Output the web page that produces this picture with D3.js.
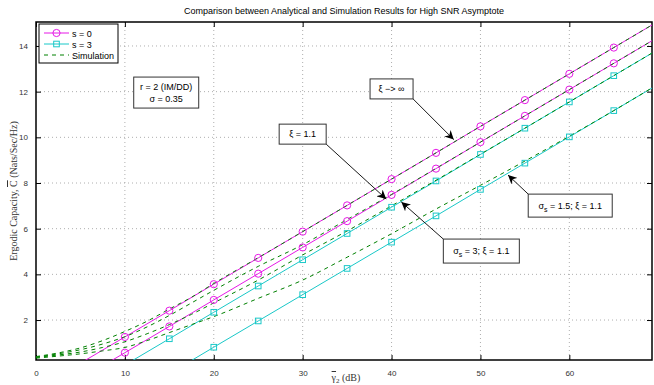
<!DOCTYPE html>
<html lang="en">
<head>
<meta charset="utf-8">
<title>Comparison between Analytical and Simulation Results for High SNR Asymptote</title>
<style>
  body { margin: 0; background: #fff; }
  svg { display: block; font-family: "Liberation Sans", Arial, Helvetica, sans-serif; }
  .tick text { font-size: 8px; fill: #333; }
  .serif { font-family: "Liberation Serif", "DejaVu Serif", serif; }
</style>
</head>
<body>
<script src="https://d3js.org/d3.v7.min.js"></script>
<script>

// SNR grid in dB (analytical curves) and the finer grid of the simulation curves
var snrDb = [0, 5, 10, 15, 20, 25, 30, 35, 40, 45, 50, 55, 60, 65, 70];
var simDb = [0, 2.5, 5, 7.5, 10, 12.5, 15, 17.5, 20, 25, 30, 35, 40, 45, 50, 55, 60, 65, 70];

// analytical high-SNR asymptotes (Nats/Sec/Hz)
var s0Inf  = [-1.04, 0.11, 1.26, 2.41, 3.57, 4.72, 5.87, 7.02, 8.17, 9.32, 10.48, 11.63, 12.78, 13.93, 15.08];
var s0Xi   = [-1.73, -0.58, 0.57, 1.72, 2.88, 4.03, 5.18, 6.33, 7.48, 8.63, 9.79, 10.94, 12.09, 13.24, 14.39];
var s3Hi   = [-2.27, -1.12, 0.03, 1.18, 2.34, 3.49, 4.64, 5.79, 6.94, 8.09, 9.25, 10.40, 11.55, 12.70, 13.85];
var s3Lo   = [-3.80, -2.65, -1.50, -0.35, 0.81, 1.96, 3.11, 4.26, 5.41, 6.56, 7.72, 8.87, 10.02, 11.17, 12.32];

// simulation results
var sim1 = [0.40, 0.56, 0.78, 1.10, 1.50, 1.95, 2.48, 3.00, 3.60, 4.73, 5.87, 7.02, 8.17, 9.32, 10.48, 11.63, 12.78, 13.93, 15.08];
var sim2 = [0.38, 0.52, 0.70, 0.95, 1.27, 1.70, 2.20, 2.75, 3.30, 4.35, 5.30, 6.40, 7.50, 8.64, 9.79, 10.94, 12.09, 13.24, 14.39];
var sim3 = [0.36, 0.47, 0.60, 0.80, 1.05, 1.40, 1.80, 2.25, 2.75, 3.75, 4.85, 5.90, 7.00, 8.12, 9.26, 10.40, 11.55, 12.70, 13.85];
var sim4 = [0.33, 0.42, 0.52, 0.65, 0.80, 1.10, 1.45, 1.80, 2.15, 2.95, 3.75, 4.75, 5.78, 6.86, 7.90, 8.96, 10.05, 11.17, 12.33];

var xTicks = [0, 10, 20, 30, 40, 50, 60];
var yTicks = [2, 4, 6, 8, 10, 12, 14];
var legendLabels = ["s = 0", "s = 3", "Simulation"];

// annotations: box centre and arrow tip in data units
var notes = [
  { lines: ["r = 2 (IM/DD)", "σ = 0.35"], cx: 14.65, cy: 11.96, w: 65, h: 31 },
  { lines: ["ξ −> ∞"], cx: 40.0, cy: 12.12, w: 43, h: 20, tip: [47.0, 9.9], from: [1, 1] },
  { lines: ["ξ = 1.1"], cx: 30.0, cy: 10.14, w: 47, h: 20, tip: [39.4, 7.3], from: [1, 1] },
  { lines: ["σs = 1.5; ξ = 1.1"], cx: 60.1, cy: 7.01, w: 84, h: 23, tip: [53.1, 8.35], from: [-1, -1] },
  { lines: ["σs = 3; ξ = 1.1"], cx: 50.1, cy: 5.02, w: 76, h: 24, tip: [41.1, 7.17], from: [-1, -1] }
];

var W = 654, H = 385;
var margin = { top: 22, right: 2, bottom: 25, left: 36 };
var width = W - margin.left - margin.right,
    height = H - margin.top - margin.bottom;

var magenta = "#e619e6", cyan = "#19c8c8", green = "#008000";

var x = d3.scaleLinear().domain([0, 69.3]).range([0, width]);
var y = d3.scaleLinear().domain([0.25, 15.05]).range([height, 0]);

var svg = d3.select("body").append("svg")
    .attr("width", W)
    .attr("height", H);

var defs = svg.append("defs");
defs.append("clipPath").attr("id", "clip")
  .append("rect").attr("width", width).attr("height", height);
defs.append("marker")
    .attr("id", "arrow")
    .attr("viewBox", "0 0 10 10")
    .attr("refX", 10).attr("refY", 5)
    .attr("markerWidth", 9).attr("markerHeight", 9)
    .attr("markerUnits", "userSpaceOnUse")
    .attr("orient", "auto")
  .append("path")
    .attr("d", "M0,0 L10,5 L0,10 L3,5 Z")
    .attr("fill", "#000");

svg.append("text")
    .attr("x", margin.left + width / 2)
    .attr("y", 14)
    .attr("text-anchor", "middle")
    .style("font-size", "9px")
    .text("Comparison between Analytical and Simulation Results for High SNR Asymptote");

var g = svg.append("g")
    .attr("transform", "translate(" + margin.left + "," + margin.top + ")");

// grid
g.append("g").selectAll("line").data(xTicks.slice(1)).enter().append("line")
    .attr("x1", function(d) { return x(d); }).attr("x2", function(d) { return x(d); })
    .attr("y1", 0).attr("y2", height)
    .attr("stroke", "#999").attr("stroke-width", 0.8).attr("stroke-dasharray", "1,3");
g.append("g").selectAll("line").data(yTicks).enter().append("line")
    .attr("y1", function(d) { return y(d); }).attr("y2", function(d) { return y(d); })
    .attr("x1", 0).attr("x2", width)
    .attr("stroke", "#999").attr("stroke-width", 0.8).attr("stroke-dasharray", "1,3");

// axes (ticks point inward)
g.append("g").attr("transform", "translate(0," + height + ")")
    .call(d3.axisBottom(x).tickValues(xTicks).tickSize(-5).tickPadding(10));
g.append("g")
    .call(d3.axisLeft(y).tickValues(yTicks).tickSize(-5).tickPadding(8));
g.append("g").call(d3.axisTop(x).tickValues(xTicks).tickSize(-5).tickFormat(""));
g.append("g").attr("transform", "translate(" + width + ",0)")
    .call(d3.axisRight(y).tickValues(yTicks).tickSize(-5).tickFormat(""));
g.selectAll(".domain").remove();
g.selectAll(".tick line").attr("stroke", "#000");

g.append("rect")
    .attr("width", width).attr("height", height)
    .attr("fill", "none").attr("stroke", "#000").attr("stroke-width", 1.5);

// curves
var plot = g.append("g").attr("clip-path", "url(#clip)");

function series(xs, ys) {
  return xs.map(function(d, i) { return { x: d, y: ys[i] }; });
}
var line = d3.line().x(function(d) { return x(d.x); }).y(function(d) { return y(d.y); });
var curveLine = d3.line().curve(d3.curveMonotoneX)
    .x(function(d) { return x(d.x); }).y(function(d) { return y(d.y); });

var analytic = [
  { data: series(snrDb, s0Inf), color: magenta, mark: "circle" },
  { data: series(snrDb, s0Xi),  color: magenta, mark: "circle" },
  { data: series(snrDb, s3Hi),  color: cyan,    mark: "square" },
  { data: series(snrDb, s3Lo),  color: cyan,    mark: "square" }
];
var sims = [sim1, sim2, sim3, sim4].map(function(s) { return series(simDb, s); });

analytic.forEach(function(a) {
  plot.append("path").datum(a.data)
      .attr("d", line).attr("fill", "none")
      .attr("stroke", a.color).attr("stroke-width", 1);
});

sims.forEach(function(s) {
  plot.append("path").datum(s)
      .attr("d", curveLine).attr("fill", "none")
      .attr("stroke", green).attr("stroke-width", 1)
      .attr("stroke-dasharray", "4,4");
});

analytic.forEach(function(a) {
  var pts = a.data.filter(function(d) {
    return d.x >= 10 && d.x <= x.domain()[1] && d.y >= y.domain()[0];
  });
  if (a.mark === "circle") {
    plot.selectAll(null).data(pts).enter().append("circle")
        .attr("cx", function(d) { return x(d.x); })
        .attr("cy", function(d) { return y(d.y); })
        .attr("r", 3.6).attr("fill", "none")
        .attr("stroke", a.color).attr("stroke-width", 1);
  } else {
    plot.selectAll(null).data(pts).enter().append("rect")
        .attr("x", function(d) { return x(d.x) - 2.8; })
        .attr("y", function(d) { return y(d.y) - 2.8; })
        .attr("width", 5.6).attr("height", 5.6).attr("fill", "none")
        .attr("stroke", a.color).attr("stroke-width", 1);
  }
});

// annotations
notes.forEach(function(n) {
  var cx = x(n.cx), cy = y(n.cy);
  if (n.tip) {
    g.append("line")
        .attr("x1", cx + n.from[0] * n.w / 2)
        .attr("y1", cy + n.from[1] * n.h / 2)
        .attr("x2", x(n.tip[0])).attr("y2", y(n.tip[1]))
        .attr("stroke", "#000").attr("stroke-width", 0.9)
        .attr("marker-end", "url(#arrow)");
  }
  g.append("rect")
      .attr("x", cx - n.w / 2).attr("y", cy - n.h / 2)
      .attr("width", n.w).attr("height", n.h)
      .attr("fill", "#fff").attr("stroke", "#333").attr("stroke-width", 1);
  n.lines.forEach(function(t, i) {
    var txt = g.append("text")
        .attr("x", cx)
        .attr("y", cy + 3 + (i - (n.lines.length - 1) / 2) * 12)
        .attr("text-anchor", "middle")
        .style("font-size", "9px");
    if (t.indexOf("σs") === 0) {
      txt.append("tspan").text("σ");
      txt.append("tspan").attr("dy", 3).style("font-size", "7px").text("s");
      txt.append("tspan").attr("dy", -3).text(t.slice(2));
    } else {
      txt.text(t);
    }
  });
});

// legend
var leg = g.append("g").attr("transform", "translate(3,2)");
leg.append("rect").attr("width", 79).attr("height", 39)
    .attr("fill", "#fff").attr("stroke", "#000").attr("stroke-width", 1);
var legItems = [
  { color: magenta, mark: "circle", dash: null },
  { color: cyan, mark: "square", dash: null },
  { color: green, mark: null, dash: "4,4" }
];
legItems.forEach(function(it, i) {
  var ly = 9 + i * 11;
  leg.append("line").attr("x1", 5).attr("x2", 30).attr("y1", ly).attr("y2", ly)
      .attr("stroke", it.color).attr("stroke-width", 1)
      .attr("stroke-dasharray", it.dash);
  if (it.mark === "circle") {
    leg.append("circle").attr("cx", 17.5).attr("cy", ly).attr("r", 3.6)
        .attr("fill", "none").attr("stroke", it.color);
  } else if (it.mark === "square") {
    leg.append("rect").attr("x", 14.7).attr("y", ly - 2.8).attr("width", 5.6).attr("height", 5.6)
        .attr("fill", "none").attr("stroke", it.color);
  }
  leg.append("text").attr("x", 33).attr("y", ly + 3.5)
      .style("font-size", "9px").text(legendLabels[i]);
});

// axis labels
var yl = svg.append("text")
    .attr("class", "serif")
    .attr("transform", "translate(17," + (margin.top + height / 2) + ") rotate(-90)")
    .attr("text-anchor", "middle")
    .style("font-size", "10px")
    .style("fill", "#333");
yl.append("tspan").text("Ergodic Capacity, ");
yl.append("tspan").style("text-decoration", "overline").text("C");
yl.append("tspan").text(" (Nats/Sec/Hz)");

var xl = svg.append("text")
    .attr("class", "serif")
    .attr("x", 346)
    .attr("y", 381)
    .attr("text-anchor", "middle")
    .style("font-size", "10px")
    .style("fill", "#333");
xl.append("tspan").style("text-decoration", "overline").text("γ");
xl.append("tspan").attr("dy", 2).style("font-size", "7px").text("2");
xl.append("tspan").attr("dy", -2).text(" (dB)");

</script>
</body>
</html>
